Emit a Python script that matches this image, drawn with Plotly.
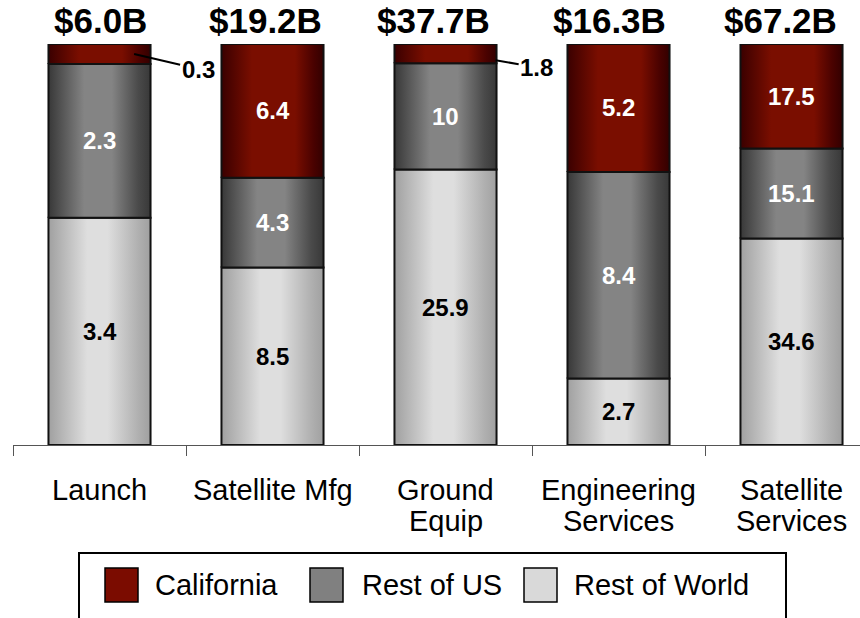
import plotly.graph_objects as go

# ---------------- data ----------------
categories = ["Launch", "Satellite Mfg", "Ground<br>Equip", "Engineering<br>Services", "Satellite<br>Services"]
series_names = ["Rest of World", "Rest of US", "California"]  # bottom -> top
rest_of_world = [3.4, 8.5, 25.9, 2.7, 34.6]
rest_of_us = [2.3, 4.3, 10, 8.4, 15.1]
california = [0.3, 6.4, 1.8, 5.2, 17.5]
legend_order = ["California", "Rest of US", "Rest of World"]

series_values = [rest_of_world, rest_of_us, california]

# ---------------- style ----------------
FONT = "Liberation Sans, Arial, Helvetica, sans-serif"
W, H = 860, 618
SCR_LEFT, SCR_TOP, SCR_AXIS = 13, 44, 445   # pixel positions in the page
ML = SCR_LEFT
MT = SCR_TOP
MB = H - SCR_AXIS
PLOT_W = W - ML
PLOT_H = H - MT - MB
CAT_PX = 173.0
BAR_W = 0.59
TITLE_DX = [1, -7, -12, -9, -11]   # small horizontal nudges of the total labels (px)

gradients = {
    "California": [[0, "#3a0000"], [0.3, "#7a0e00"], [0.72, "#7a0e00"], [0.9, "#4a0200"], [1, "#330000"]],
    "Rest of US": [[0, "#383838"], [0.35, "#848484"], [0.62, "#848484"], [0.88, "#4a4a4a"], [1, "#383838"]],
    "Rest of World": [[0, "#a0a0a0"], [0.38, "#dedede"], [0.58, "#dedede"], [0.88, "#b0b0b0"], [1, "#a0a0a0"]],
}
solid = {"California": "#7b0c00", "Rest of US": "#808080", "Rest of World": "#d9d9d9"}
text_col = {"California": "white", "Rest of US": "white", "Rest of World": "black"}


def px_x(px):
    """page x pixel -> paper coordinate"""
    return (px - ML) / PLOT_W


def px_y(py):
    """page y pixel -> paper coordinate"""
    return (SCR_AXIS - py) / PLOT_H


fig = go.Figure()
annotations = []
shapes = []

totals = [sum(v[i] for v in series_values) for i in range(len(categories))]

for i, cat in enumerate(categories):
    base = 0.0
    for name, vals in zip(series_names, series_values):
        share = vals[i] / totals[i] * 100
        x0, x1 = i - BAR_W / 2, i + BAR_W / 2
        fig.add_trace(go.Scatter(
            x=[x0, x1, x1, x0, x0],
            y=[base, base, base + share, base + share, base],
            mode="lines",
            fill="toself",
            fillgradient=dict(type="horizontal", colorscale=gradients[name]),
            line=dict(color="#111111", width=2),
            showlegend=False,
            hoverinfo="skip",
        ))
        label = f"{vals[i]:g}"
        if share >= 8:
            annotations.append(dict(
                x=i, y=base + share / 2, xref="x", yref="y", text=f"<b>{label}</b>",
                showarrow=False, font=dict(family=FONT, size=24, color=text_col[name]),
            ))
        else:
            # callout outside the bar
            annotations.append(dict(
                x=i + (0.2 if i == 0 else 0.29), y=base + share * (0.5 if i == 0 else 0.15),
                xref="x", yref="y", text=f"<b>{label}</b>",
                showarrow=True, arrowhead=0, arrowwidth=2, arrowcolor="black",
                ax=(64 if i == 0 else 41), ay=(15 if i == 0 else 7), standoff=0,
                font=dict(family=FONT, size=24, color="black"),
            ))
        base += share
    # total above bar
    annotations.append(dict(
        x=i, y=px_y(21), xref="x", yref="paper", text=f"<b>${totals[i]:.1f}B</b>",
        xshift=TITLE_DX[i],
        showarrow=False, yanchor="middle", font=dict(family=FONT, size=35, color="black"),
    ))
    # category label lines
    for k, line in enumerate(cat.split("<br>")):
        annotations.append(dict(
            x=i, y=px_y(490 + 31 * k), xref="x", yref="paper", text=line,
            showarrow=False, yanchor="middle", font=dict(family=FONT, size=29, color="black"),
        ))

# legend drawn as a framed box
shapes.append(dict(type="rect", xref="paper", yref="paper",
                   x0=px_x(79), x1=px_x(786), y0=px_y(553), y1=px_y(660),
                   line=dict(color="black", width=2), fillcolor="white", layer="above"))
sw_x = [105, 310, 524]
tx_x = [153, 360, 572]
for name, sx, tx in zip(legend_order, sw_x, tx_x):
    shapes.append(dict(type="rect", xref="paper", yref="paper",
                       x0=px_x(sx), x1=px_x(sx + 33), y0=px_y(568), y1=px_y(602),
                       line=dict(color="black", width=1.5), fillcolor=solid[name], layer="above"))
    annotations.append(dict(
        x=px_x(tx), y=px_y(585), xref="paper", yref="paper", text=name, showarrow=False,
        xanchor="left", yanchor="middle", font=dict(family=FONT, size=29, color="black"),
    ))

xmax = -0.5 + PLOT_W / CAT_PX
fig.update_layout(
    width=W, height=H,
    margin=dict(l=ML, r=0, t=MT, b=MB, pad=0),
    paper_bgcolor="white", plot_bgcolor="white",
    showlegend=False,
    xaxis=dict(range=[-0.5, xmax], showgrid=False, zeroline=False,
               showline=True, linecolor="#555555", linewidth=1,
               tickmode="array", tickvals=[i - 0.5 for i in range(len(categories))],
               ticks="outside", ticklen=10, tickcolor="#555555", tickwidth=1,
               showticklabels=False, fixedrange=True),
    yaxis=dict(range=[0, 100], visible=False, fixedrange=True),
    annotations=annotations,
    shapes=shapes,
)

fig.write_html("out.html",
               config={"displayModeBar": False, "staticPlot": True},
               post_script="document.body.style.margin='0';document.body.style.overflow='hidden';")
